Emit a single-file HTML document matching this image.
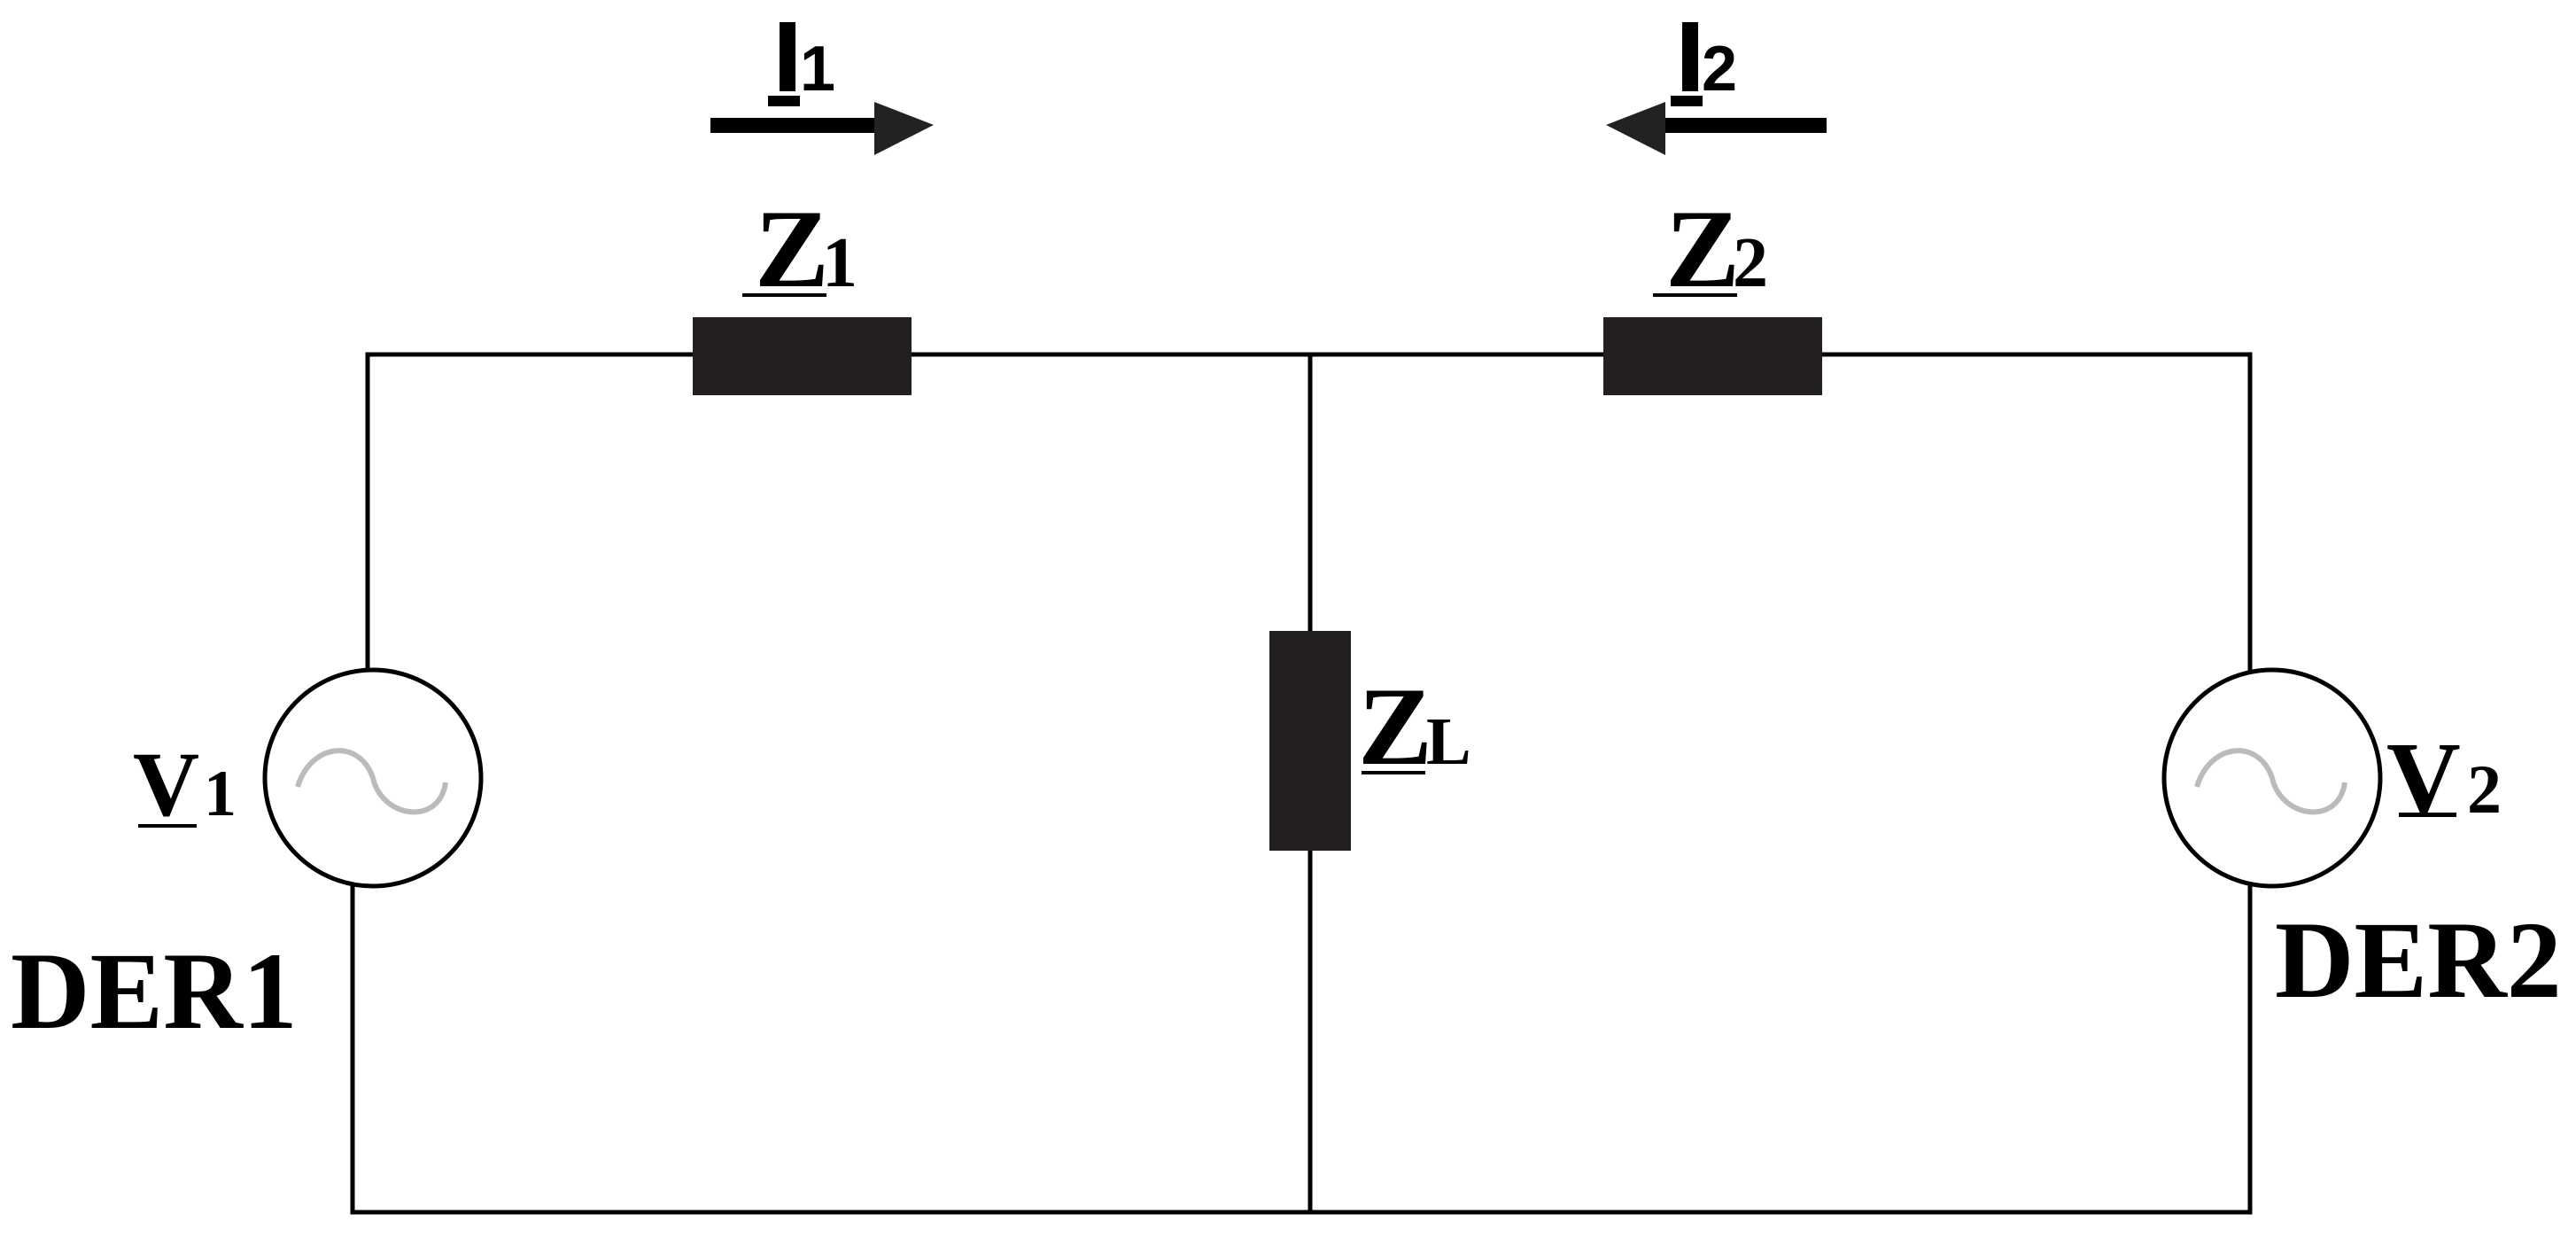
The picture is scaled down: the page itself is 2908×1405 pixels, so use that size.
<!DOCTYPE html>
<html><head><style>
html,body{margin:0;padding:0;background:#fff;}
svg{display:block;}
text{font-family:"Liberation Serif",serif;font-weight:bold;fill:#000;}
.s{font-family:"Liberation Sans",sans-serif;}
</style></head><body>
<svg width="2908" height="1405" viewBox="0 0 2908 1405" xmlns="http://www.w3.org/2000/svg">
<g stroke="#000" stroke-width="5" fill="none">
<polyline points="415,757 415,400 2540,400 2540,757"/>
<polyline points="398,998 398,1368 2540,1368 2540,998"/>
<line x1="1479" y1="400" x2="1479" y2="1368"/>
<circle cx="421" cy="878" r="122"/>
<circle cx="2565" cy="878" r="122"/>
</g>
<g stroke="#bbb" stroke-width="6" fill="none">
<path d="M336,888 C351,838 406,833 421,878 C431,923 496,933 503,883"/>
<path d="M2480,888 C2495,838 2550,833 2565,878 C2575,923 2640,933 2647,883"/>
</g>
<rect x="782" y="358" width="247" height="88" fill="#231f20"/>
<rect x="1810" y="358" width="247" height="88" fill="#231f20"/>
<rect x="1433" y="712" width="92" height="248" fill="#231f20"/>
<rect x="802" y="133" width="190" height="17" fill="#000"/>
<polygon points="987,115 1054,141 987,175" fill="#222"/>
<rect x="1872" y="133" width="190" height="17" fill="#000"/>
<polygon points="1880,115 1813,141 1880,175" fill="#222"/>
<rect x="880" y="25" width="18" height="78" fill="#000"/>
<rect x="867" y="108" width="36" height="12" fill="#000"/>
<text class="s" x="903" y="102" font-size="72" font-weight="normal">1</text>
<rect x="1899" y="25" width="18" height="78" fill="#000"/>
<rect x="1886" y="108" width="36" height="12" fill="#000"/>
<text class="s" x="1921" y="102" font-size="72" font-weight="normal">2</text>
<text x="852" y="323" font-size="126">Z</text>
<text x="928" y="323" font-size="80">1</text>
<rect x="838" y="331" width="95" height="4" fill="#000"/>
<text x="1880" y="323" font-size="126">Z</text>
<text x="1956" y="323" font-size="80">2</text>
<rect x="1866" y="331" width="95" height="4" fill="#000"/>
<text x="1533" y="862" font-size="126">Z</text>
<text x="1610" y="862" font-size="76">L</text>
<rect x="1537" y="870" width="72" height="4" fill="#000"/>
<text x="150" y="920" font-size="104">V</text>
<text x="230" y="920" font-size="74">1</text>
<rect x="156" y="930" width="66" height="4" fill="#000"/>
<text x="2694" y="917" font-size="116">V</text>
<text x="2785" y="917" font-size="78">2</text>
<rect x="2708" y="917" width="65" height="5" fill="#000"/>
<text x="12" y="1160" font-size="124">DER1</text>
<text x="2568" y="1125" font-size="124">DER2</text>
</svg>
</body></html>
